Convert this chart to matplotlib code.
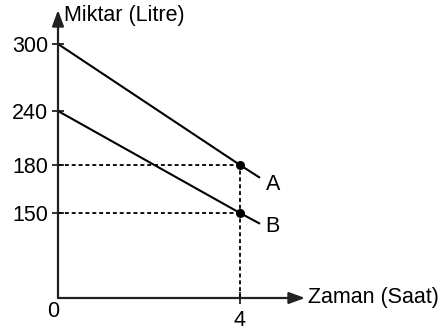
import numpy as np
import matplotlib
matplotlib.use("Agg")
import matplotlib.pyplot as plt

# ---- data ----
time_hours = [0, 4]
tank_A = [300, 180]
tank_B = [240, 150]
end_time = 4.44
tank_A_end = 172
tank_B_end = 131
y_ticks = [150, 180, 240, 300]
x_ticks = [4]
x_label = "Zaman (Saat)"
y_label = "Miktar (Litre)"
line_labels = ["A", "B"]

# schematic (non-proportional) vertical axis: value -> drawn height
knots_v = np.array([0, 150, 180, 240, 300], dtype=float)
knots_p = np.array([0, 85, 133, 187, 254], dtype=float)

def fwd(v):
    v = np.asarray(v, dtype=float)
    p = np.interp(v, knots_v, knots_p)
    lo = (knots_p[1] - knots_p[0]) / (knots_v[1] - knots_v[0])
    hi = (knots_p[-1] - knots_p[-2]) / (knots_v[-1] - knots_v[-2])
    p = np.where(v < knots_v[0], knots_p[0] + (v - knots_v[0]) * lo, p)
    p = np.where(v > knots_v[-1], knots_p[-1] + (v - knots_v[-1]) * hi, p)
    return p

def inv(p):
    p = np.asarray(p, dtype=float)
    v = np.interp(p, knots_p, knots_v)
    lo = (knots_v[1] - knots_v[0]) / (knots_p[1] - knots_p[0])
    hi = (knots_v[-1] - knots_v[-2]) / (knots_p[-1] - knots_p[-2])
    v = np.where(p < knots_p[0], knots_v[0] + (p - knots_p[0]) * lo, v)
    v = np.where(p > knots_p[-1], knots_v[-1] + (p - knots_p[-1]) * hi, v)
    return v

W, H = 448, 331
fig = plt.figure(figsize=(W / 100, H / 100), dpi=100)
plt.rcParams['font.family'] = ['Liberation Sans', 'DejaVu Sans']

x0, y0 = 58, 298          # origin pixel
x_tip, y_tip = 305, 10    # arrow tips
ax = fig.add_axes([x0 / W, (H - y0) / H, (x_tip - x0) / W, (y0 - y_tip) / H])
ax.set_yscale('function', functions=(fwd, inv))
px_per_hour = (240 - x0) / 4
ax.set_xlim(0, (x_tip - x0) / px_per_hour)
ax.set_ylim(0, float(inv(y0 - y_tip)))
for s in ax.spines.values():
    s.set_visible(False)
ax.patch.set_visible(False)

lw_axis = 1.6
# axes arrows
for tip in [(1, 0), (0, 1)]:
    ax.annotate('', xy=tip, xycoords='axes fraction', xytext=(0, 0),
                textcoords='axes fraction',
                arrowprops=dict(arrowstyle='-|>,head_length=0.6,head_width=0.22',
                                color='#222222', lw=lw_axis,
                                mutation_scale=16, shrinkA=0, shrinkB=0),
                annotation_clip=False)

fs = 15.5
ax.text(1.012, 0, x_label, transform=ax.transAxes, ha='left', va='center', fontsize=fs)
ax.text(0.025, 0.98, y_label, transform=ax.transAxes, ha='left', va='center', fontsize=fs)

# lines
ax.plot(time_hours + [end_time], tank_A + [tank_A_end], color='black', lw=1.5,
        solid_capstyle='butt', clip_on=False)
ax.plot(time_hours + [end_time], tank_B + [tank_B_end], color='black', lw=1.5,
        solid_capstyle='butt', clip_on=False)

# dashed guides
dash = (0, (2.2, 1.6))
for v in [tank_A[1], tank_B[1]]:
    ax.plot([0, time_hours[1]], [v, v], color='black', lw=1.3, linestyle=dash)
ax.plot([time_hours[1], time_hours[1]], [0, tank_A[1]], color='black', lw=1.3, linestyle=dash)

# points
ax.plot([time_hours[1]] * 2, [tank_A[1], tank_B[1]], 'o', color='black', ms=5.5, zorder=5)

# labels A, B
ax.annotate(line_labels[0], xy=(end_time, tank_A_end), xytext=(4, -5),
            textcoords='offset points', ha='left', va='center', fontsize=fs)
ax.annotate(line_labels[1], xy=(end_time, tank_B_end), xytext=(4, -2),
            textcoords='offset points', ha='left', va='center', fontsize=fs)

# ticks
ax.set_yticks(y_ticks)
ax.set_yticklabels([str(t) for t in y_ticks])
ax.set_xticks(x_ticks)
ax.set_xticklabels([str(t) for t in x_ticks])
ax.tick_params(axis='both', direction='inout', length=8, width=1.3,
               color='#222222', labelsize=fs)
ax.tick_params(axis='y', pad=3)
ax.tick_params(axis='x', pad=4.5)
ax.yaxis.set_minor_locator(matplotlib.ticker.NullLocator())
ax.text(-0.02, -0.012, "0", transform=ax.transAxes, ha='center', va='top', fontsize=fs)

fig.savefig("out.png", dpi=100)
